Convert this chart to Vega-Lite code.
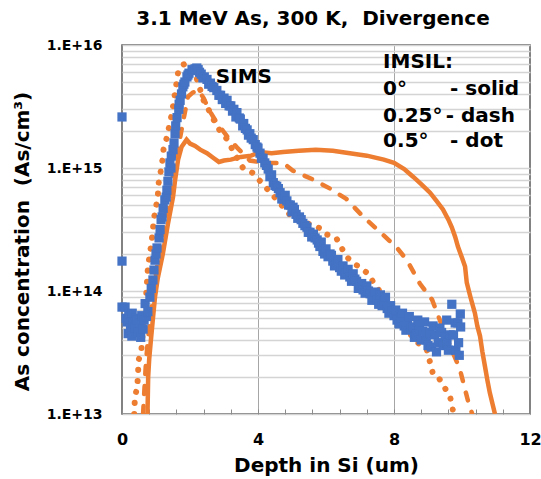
{
  "$schema": "https://vega.github.io/schema/vega-lite/v6.json",
  "autosize": "none",
  "width": 408,
  "height": 369,
  "padding": {"left": 122, "top": 45, "right": 11, "bottom": 65},
  "background": "white",
  "view": {"stroke": "#595959", "strokeWidth": 1.5},
  "title": {"text": "3.1 MeV As, 300 K,\u00a0 Divergence", "font": "DejaVu Sans", "fontSize": 20, "fontWeight": "bold", "color": "black", "anchor": "middle", "offset": 9, "dx": -13},
  "datasets": {
    "d0": [
      {"x": 0.75, "y": 1.0e13}, {"x": 0.77, "y": 2.0e13}, {"x": 0.8, "y": 2.8e13}, {"x": 0.85, "y": 4.0e13}, {"x": 0.9, "y": 5.6e13},
      {"x": 0.97, "y": 8.9e13}, {"x": 1.05, "y": 1.26e14}, {"x": 1.2, "y": 2.0e14}, {"x": 1.35, "y": 3.5e14}, {"x": 1.5, "y": 5.8e14},
      {"x": 1.56, "y": 7.9e14}, {"x": 1.65, "y": 1.17e15}, {"x": 1.75, "y": 1.48e15}, {"x": 1.9, "y": 1.7e15}, {"x": 2.0, "y": 1.58e15},
      {"x": 2.15, "y": 1.51e15}, {"x": 2.3, "y": 1.41e15}, {"x": 2.5, "y": 1.32e15}, {"x": 2.7, "y": 1.2e15}, {"x": 2.85, "y": 1.12e15},
      {"x": 3.0, "y": 1.15e15}, {"x": 3.2, "y": 1.17e15}, {"x": 3.5, "y": 1.23e15}, {"x": 3.8, "y": 1.26e15}, {"x": 4.06, "y": 1.35e15},
      {"x": 4.4, "y": 1.32e15}, {"x": 4.74, "y": 1.35e15}, {"x": 5.2, "y": 1.38e15}, {"x": 5.7, "y": 1.41e15}, {"x": 6.2, "y": 1.38e15},
      {"x": 6.7, "y": 1.32e15}, {"x": 7.2, "y": 1.26e15}, {"x": 7.7, "y": 1.17e15}, {"x": 8.0, "y": 1.1e15}, {"x": 8.3, "y": 9.8e14},
      {"x": 8.56, "y": 8.5e14}, {"x": 8.8, "y": 7.4e14}, {"x": 9.06, "y": 6.3e14}, {"x": 9.25, "y": 5.4e14}, {"x": 9.44, "y": 4.6e14},
      {"x": 9.6, "y": 3.8e14}, {"x": 9.7, "y": 3.3e14}, {"x": 9.8, "y": 2.75e14}, {"x": 9.88, "y": 2.3e14}, {"x": 10.0, "y": 1.86e14},
      {"x": 10.09, "y": 1.58e14}, {"x": 10.14, "y": 1.17e14}, {"x": 10.25, "y": 8.9e13}, {"x": 10.38, "y": 6.6e13}, {"x": 10.45, "y": 5.2e13},
      {"x": 10.53, "y": 4.3e13}, {"x": 10.6, "y": 3.2e13}, {"x": 10.68, "y": 2.4e13}, {"x": 10.75, "y": 1.86e13}, {"x": 10.82, "y": 1.48e13},
      {"x": 10.9, "y": 1.2e13}, {"x": 10.97, "y": 1.0e13}
    ],
    "d25": [
      {"x": 0.62, "y": 1.0e13}, {"x": 0.66, "y": 1.6e13}, {"x": 0.7, "y": 2.5e13}, {"x": 0.76, "y": 4.0e13}, {"x": 0.84, "y": 6.3e13},
      {"x": 0.93, "y": 1.0e14}, {"x": 1.03, "y": 1.6e14}, {"x": 1.15, "y": 2.5e14}, {"x": 1.28, "y": 4.0e14}, {"x": 1.42, "y": 6.5e14},
      {"x": 1.55, "y": 1.05e15}, {"x": 1.68, "y": 1.6e15}, {"x": 1.8, "y": 2.4e15}, {"x": 1.94, "y": 3.8e15}, {"x": 2.08, "y": 4.1e15},
      {"x": 2.25, "y": 4.3e15}, {"x": 2.4, "y": 3.7e15}, {"x": 2.55, "y": 3.0e15}, {"x": 2.8, "y": 2.3e15}, {"x": 3.1, "y": 1.8e15},
      {"x": 3.4, "y": 1.45e15}, {"x": 3.76, "y": 1.15e15}, {"x": 4.2, "y": 1.1e15}, {"x": 4.74, "y": 1.1e15}, {"x": 5.03, "y": 9.5e14},
      {"x": 5.6, "y": 8.1e14}, {"x": 6.12, "y": 6.8e14}, {"x": 6.6, "y": 5.6e14}, {"x": 7.1, "y": 4.0e14}, {"x": 7.6, "y": 3.0e14},
      {"x": 8.09, "y": 2.24e14}, {"x": 8.38, "y": 1.78e14}, {"x": 8.76, "y": 1.15e14}, {"x": 9.12, "y": 8.5e13}, {"x": 9.5, "y": 4.5e13},
      {"x": 9.94, "y": 2.3e13}, {"x": 10.17, "y": 1.3e13}, {"x": 10.3, "y": 1.0e13}
    ],
    "d50": [
      {"x": 0.36, "y": 1.0e13}, {"x": 0.38, "y": 1.38e13}, {"x": 0.45, "y": 1.66e13}, {"x": 0.47, "y": 2.1e13}, {"x": 0.49, "y": 2.75e13},
      {"x": 0.57, "y": 3.3e13}, {"x": 0.6, "y": 4.2e13}, {"x": 0.65, "y": 6.3e13}, {"x": 0.7, "y": 8.5e13}, {"x": 0.73, "y": 1.1e14},
      {"x": 0.75, "y": 1.4e14}, {"x": 0.78, "y": 1.7e14}, {"x": 0.87, "y": 2.5e14}, {"x": 0.91, "y": 3.2e14}, {"x": 0.94, "y": 3.9e14},
      {"x": 1.05, "y": 5.8e14}, {"x": 1.08, "y": 7.6e14}, {"x": 1.13, "y": 9.1e14}, {"x": 1.19, "y": 1.17e15}, {"x": 1.22, "y": 1.41e15},
      {"x": 1.32, "y": 1.78e15}, {"x": 1.47, "y": 2.8e15}, {"x": 1.56, "y": 4.1e15}, {"x": 1.65, "y": 6.0e15}, {"x": 1.78, "y": 6.9e15},
      {"x": 1.9, "y": 7.1e15}, {"x": 2.05, "y": 6.4e15}, {"x": 2.2, "y": 5.3e15}, {"x": 2.4, "y": 3.55e15}, {"x": 2.6, "y": 2.8e15},
      {"x": 2.8, "y": 2.15e15}, {"x": 3.1, "y": 1.7e15}, {"x": 3.3, "y": 1.32e15}, {"x": 3.56, "y": 1.0e15}, {"x": 3.85, "y": 9.1e14},
      {"x": 4.2, "y": 7.1e14}, {"x": 4.56, "y": 5.5e14}, {"x": 5.03, "y": 3.9e14}, {"x": 5.4, "y": 3.6e14}, {"x": 5.82, "y": 3.24e14},
      {"x": 6.0, "y": 2.9e14}, {"x": 6.3, "y": 2.7e14}, {"x": 6.6, "y": 1.9e14}, {"x": 6.8, "y": 1.7e14}, {"x": 7.2, "y": 1.41e14},
      {"x": 7.5, "y": 1.07e14}, {"x": 7.9, "y": 7.4e13}, {"x": 8.38, "y": 4.8e13}, {"x": 8.7, "y": 3.8e13}, {"x": 8.97, "y": 3.3e13},
      {"x": 9.15, "y": 2.1e13}, {"x": 9.3, "y": 2.0e13}, {"x": 9.5, "y": 1.62e13}, {"x": 9.65, "y": 1.38e13}, {"x": 9.72, "y": 1.12e13},
      {"x": 9.75, "y": 1.0e13}
    ],
    "sims": [
      {"x": 0, "y": 2.6e15}, {"x": 0, "y": 1.75e14}, {"x": 0, "y": 7.4e13},
      {"x": 0.09, "y": 7.4e13}, {"x": 0.12, "y": 6.0e13}, {"x": 0.15, "y": 5.6e13}, {"x": 0.18, "y": 4.5e13}, {"x": 0.2, "y": 6.5e13}, {"x": 0.25, "y": 5.0e13},
      {"x": 0.29, "y": 4.3e13}, {"x": 0.3, "y": 6.6e13}, {"x": 0.33, "y": 5.5e13}, {"x": 0.38, "y": 5.0e13}, {"x": 0.42, "y": 6.0e13}, {"x": 0.45, "y": 5.8e13}, {"x": 0.47, "y": 4.6e13},
      {"x": 0.53, "y": 5.5e13}, {"x": 0.55, "y": 4.2e13}, {"x": 0.58, "y": 6.3e13}, {"x": 0.62, "y": 4.9e13}, {"x": 0.65, "y": 5.8e13}, {"x": 0.68, "y": 7.9e13}, {"x": 0.72, "y": 6.2e13},
      {"x": 0.76, "y": 6.8e13}, {"x": 0.82, "y": 8.9e13}, {"x": 0.86, "y": 1.05e14}, {"x": 0.91, "y": 1.23e14}, {"x": 0.94, "y": 1.48e14},
      {"x": 0.97, "y": 1.78e14}, {"x": 1.0, "y": 2.0e14}, {"x": 1.03, "y": 2.24e14}, {"x": 1.09, "y": 2.7e14}, {"x": 1.12, "y": 3.16e14}, {"x": 1.15, "y": 3.8e14},
      {"x": 1.18, "y": 4.0e14}, {"x": 1.21, "y": 4.7e14}, {"x": 1.26, "y": 5.5e14}, {"x": 1.3, "y": 5.8e14}, {"x": 1.32, "y": 6.6e14}, {"x": 1.35, "y": 7.8e14}, {"x": 1.38, "y": 9.3e14},
      {"x": 1.41, "y": 1.1e15}, {"x": 1.44, "y": 1.0e15}, {"x": 1.45, "y": 1.25e15}, {"x": 1.5, "y": 1.41e15}, {"x": 1.53, "y": 1.6e15}, {"x": 1.56, "y": 1.9e15},
      {"x": 1.58, "y": 2.2e15}, {"x": 1.62, "y": 2.57e15}, {"x": 1.67, "y": 3.0e15}, {"x": 1.68, "y": 3.3e15}, {"x": 1.71, "y": 3.55e15}, {"x": 1.75, "y": 4.0e15}, {"x": 1.79, "y": 4.57e15},
      {"x": 1.82, "y": 4.8e15}, {"x": 1.85, "y": 5.0e15}, {"x": 1.91, "y": 5.5e15}, {"x": 1.94, "y": 5.7e15}, {"x": 1.97, "y": 5.9e15}, {"x": 2.06, "y": 6.3e15}, {"x": 2.1, "y": 6.2e15},
      {"x": 2.15, "y": 6.4e15}, {"x": 2.2, "y": 6.5e15}, {"x": 2.24, "y": 6.3e15}, {"x": 2.28, "y": 6.0e15}, {"x": 2.33, "y": 5.8e15}, {"x": 2.38, "y": 5.4e15},
      {"x": 2.42, "y": 5.5e15}, {"x": 2.5, "y": 5.25e15}, {"x": 2.55, "y": 4.8e15}, {"x": 2.6, "y": 4.9e15}, {"x": 2.65, "y": 4.6e15},
      {"x": 2.7, "y": 4.5e15}, {"x": 2.79, "y": 4.27e15}, {"x": 2.85, "y": 3.9e15}, {"x": 2.9, "y": 3.9e15}, {"x": 2.95, "y": 3.6e15}, {"x": 3.0, "y": 3.7e15},
      {"x": 3.05, "y": 3.35e15}, {"x": 3.09, "y": 3.55e15}, {"x": 3.15, "y": 3.2e15},
      {"x": 3.2, "y": 3.2e15}, {"x": 3.25, "y": 2.9e15}, {"x": 3.29, "y": 3.0e15}, {"x": 3.35, "y": 2.6e15}, {"x": 3.38, "y": 2.82e15}, {"x": 3.45, "y": 2.55e15},
      {"x": 3.48, "y": 2.5e15}, {"x": 3.55, "y": 2.2e15}, {"x": 3.58, "y": 2.3e15}, {"x": 3.63, "y": 2.1e15},
      {"x": 3.68, "y": 2.04e15}, {"x": 3.72, "y": 1.85e15}, {"x": 3.76, "y": 1.9e15}, {"x": 3.8, "y": 1.75e15}, {"x": 3.86, "y": 1.7e15}, {"x": 3.92, "y": 1.55e15},
      {"x": 3.97, "y": 1.48e15}, {"x": 4.0, "y": 1.45e15}, {"x": 4.06, "y": 1.32e15}, {"x": 4.1, "y": 1.2e15},
      {"x": 4.15, "y": 1.2e15}, {"x": 4.2, "y": 1.1e15}, {"x": 4.25, "y": 1.05e15}, {"x": 4.3, "y": 9.8e14}, {"x": 4.35, "y": 8.5e14}, {"x": 4.4, "y": 8.8e14},
      {"x": 4.45, "y": 7.6e14}, {"x": 4.5, "y": 7.2e14}, {"x": 4.55, "y": 7.1e14}, {"x": 4.6, "y": 6.8e14},
      {"x": 4.65, "y": 6.3e14}, {"x": 4.7, "y": 5.6e14}, {"x": 4.75, "y": 5.6e14}, {"x": 4.8, "y": 6.0e14}, {"x": 4.85, "y": 5.4e14}, {"x": 4.9, "y": 5.0e14},
      {"x": 4.95, "y": 5.0e14}, {"x": 5.0, "y": 4.4e14}, {"x": 5.03, "y": 4.8e14}, {"x": 5.07, "y": 4.6e14},
      {"x": 5.12, "y": 4.2e14}, {"x": 5.17, "y": 3.9e14}, {"x": 5.22, "y": 4.0e14}, {"x": 5.27, "y": 3.8e14}, {"x": 5.32, "y": 3.55e14}, {"x": 5.38, "y": 3.4e14},
      {"x": 5.44, "y": 3.3e14}, {"x": 5.48, "y": 3.0e14}, {"x": 5.53, "y": 3.0e14}, {"x": 5.58, "y": 2.75e14},
      {"x": 5.63, "y": 2.9e14}, {"x": 5.68, "y": 2.7e14}, {"x": 5.74, "y": 2.6e14}, {"x": 5.78, "y": 2.45e14}, {"x": 5.82, "y": 2.3e14}, {"x": 5.86, "y": 2.5e14},
      {"x": 5.91, "y": 2.1e14}, {"x": 5.96, "y": 2.0e14}, {"x": 6.0, "y": 2.2e14}, {"x": 6.06, "y": 1.9e14},
      {"x": 6.12, "y": 2.0e14}, {"x": 6.16, "y": 1.95e14}, {"x": 6.2, "y": 1.75e14}, {"x": 6.25, "y": 1.6e14}, {"x": 6.3, "y": 1.7e14}, {"x": 6.35, "y": 1.8e14},
      {"x": 6.4, "y": 1.55e14}, {"x": 6.45, "y": 1.45e14}, {"x": 6.5, "y": 1.6e14}, {"x": 6.55, "y": 1.35e14},
      {"x": 6.6, "y": 1.41e14}, {"x": 6.65, "y": 1.5e14}, {"x": 6.7, "y": 1.3e14}, {"x": 6.75, "y": 1.2e14}, {"x": 6.8, "y": 1.38e14}, {"x": 6.85, "y": 1.25e14},
      {"x": 6.9, "y": 1.2e14}, {"x": 6.95, "y": 1.05e14}, {"x": 7.0, "y": 1.12e14}, {"x": 7.05, "y": 1.15e14},
      {"x": 7.09, "y": 1.02e14}, {"x": 7.15, "y": 9.6e13}, {"x": 7.2, "y": 1.1e14}, {"x": 7.25, "y": 1.0e14}, {"x": 7.3, "y": 9.5e13}, {"x": 7.35, "y": 8.4e13},
      {"x": 7.4, "y": 8.9e13}, {"x": 7.45, "y": 9.8e13}, {"x": 7.5, "y": 8.5e13}, {"x": 7.55, "y": 7.8e13},
      {"x": 7.6, "y": 9.3e13}, {"x": 7.65, "y": 7.6e13}, {"x": 7.7, "y": 8.3e13}, {"x": 7.75, "y": 8.9e13}, {"x": 7.8, "y": 7.2e13}, {"x": 7.85, "y": 6.6e13},
      {"x": 7.9, "y": 7.6e13}, {"x": 7.95, "y": 6.9e13}, {"x": 8.0, "y": 6.3e13}, {"x": 8.05, "y": 7.0e13},
      {"x": 8.09, "y": 5.8e13}, {"x": 8.15, "y": 5.4e13}, {"x": 8.2, "y": 6.0e13}, {"x": 8.25, "y": 6.6e13}, {"x": 8.3, "y": 5.2e13}, {"x": 8.35, "y": 4.8e13},
      {"x": 8.4, "y": 5.6e13}, {"x": 8.45, "y": 6.2e13}, {"x": 8.5, "y": 4.9e13},
      {"x": 8.56, "y": 5.1e13}, {"x": 8.6, "y": 4.2e13}, {"x": 8.65, "y": 4.5e13}, {"x": 8.7, "y": 5.8e13}, {"x": 8.75, "y": 5.3e13}, {"x": 8.8, "y": 4.0e13},
      {"x": 8.85, "y": 4.7e13}, {"x": 8.9, "y": 5.6e13}, {"x": 8.95, "y": 4.0e13}, {"x": 9.0, "y": 3.6e13},
      {"x": 9.06, "y": 4.6e13}, {"x": 9.1, "y": 3.5e13}, {"x": 9.15, "y": 5.2e13}, {"x": 9.2, "y": 4.4e13}, {"x": 9.25, "y": 3.2e13}, {"x": 9.3, "y": 3.8e13},
      {"x": 9.35, "y": 5.0e13}, {"x": 9.4, "y": 4.6e13},
      {"x": 9.45, "y": 3.6e13}, {"x": 9.5, "y": 4.2e13}, {"x": 9.55, "y": 5.8e13}, {"x": 9.56, "y": 3.8e13}, {"x": 9.6, "y": 3.3e13}, {"x": 9.65, "y": 4.4e13},
      {"x": 9.7, "y": 7.8e13}, {"x": 9.75, "y": 4.4e13}, {"x": 9.8, "y": 5.5e13},
      {"x": 9.82, "y": 3.3e13}, {"x": 9.88, "y": 5.5e13}, {"x": 9.9, "y": 3.8e13}, {"x": 9.92, "y": 3.0e13}, {"x": 9.95, "y": 6.5e13}, {"x": 9.96, "y": 5.1e13}
    ],
    "labels": [
      {"x": 2.76, "y": 5.45e15, "t": "SIMS"},
      {"x": 7.68, "y": 7.21e15, "t": "IMSIL:"},
      {"x": 7.68, "y": 4.35e15, "t": "0°"},
      {"x": 7.68, "y": 2.67e15, "t": "0.25°"},
      {"x": 7.68, "y": 1.67e15, "t": "0.5°"},
      {"x": 9.65, "y": 4.35e15, "t": "- solid"},
      {"x": 9.52, "y": 2.67e15, "t": "- dash"},
      {"x": 9.65, "y": 1.67e15, "t": "- dot"}
    ]
  },
  "encoding": {
    "x": {
      "field": "x", "type": "quantitative",
      "scale": {"domain": [0, 12], "nice": false, "zero": false},
      "axis": {
        "title": "Depth in Si (um)",
        "values": [0, 0.8, 1.6, 2.4, 3.2, 4, 4.8, 5.6, 6.4, 7.2, 8, 8.8, 9.6, 10.4, 11.2, 12],
        "labelExpr": "(datum.value == 0 || datum.value == 4 || datum.value == 8 || datum.value == 12) ? datum.label : ''",
        "labelOverlap": false, "labelFlush": false,
        "labelFont": "DejaVu Sans", "labelFontSize": 16, "labelFontWeight": "bold", "labelColor": "black", "labelPadding": 22,
        "grid": true,
        "gridColor": {"condition": {"test": "datum.value == 4 || datum.value == 8", "value": "#a6a6a6"}, "value": "rgba(0,0,0,0)"},
        "gridWidth": 1,
        "domain": false,
        "ticks": true, "tickSize": -5, "tickColor": "#8c8c8c", "tickWidth": 1,
        "titleFont": "DejaVu Sans", "titleFontSize": 20, "titleFontWeight": "bold", "titleColor": "black",
        "titleY": 57, "titleBaseline": "alphabetic"
      }
    },
    "y": {
      "field": "y", "type": "quantitative",
      "scale": {"type": "log", "domain": [1e13, 1e16], "nice": false},
      "axis": {
        "title": "As concentration\u00a0 (As/cm³)",
        "values": [1e13, 2e13, 3e13, 4e13, 5e13, 6e13, 7e13, 8e13, 9e13, 1e14, 2e14, 3e14, 4e14, 5e14, 6e14, 7e14, 8e14, 9e14, 1e15, 2e15, 3e15, 4e15, 5e15, 6e15, 7e15, 8e15, 9e15, 1e16],
        "labelExpr": "abs(log(datum.value)/LN10 - round(log(datum.value)/LN10)) < 0.001 ? '1.E+' + round(log(datum.value)/LN10) : ''",
        "labelOverlap": false, "labelFlush": false,
        "labelFont": "DejaVu Sans", "labelFontSize": 14, "labelFontWeight": "bold", "labelColor": "black", "labelPadding": 20,
        "grid": true, "gridColor": "#d4d4d4", "gridWidth": 1.5,
        "domain": false, "ticks": false,
        "titleFont": "DejaVu Sans", "titleFontSize": 20, "titleFontWeight": "bold", "titleColor": "black",
        "titleX": -100, "titleY": 196, "titleAngle": -90, "titleAlign": "center", "titleBaseline": "middle"
      }
    }
  },
  "layer": [
    {"data": {"name": "d0"}, "mark": {"type": "line", "color": "#ED7D31", "strokeWidth": 4.5, "clip": true}},
    {"data": {"name": "d25"}, "mark": {"type": "line", "color": "#ED7D31", "strokeWidth": 4.5, "strokeDash": [8, 12], "strokeCap": "round", "clip": true}},
    {"data": {"name": "d50"}, "mark": {"type": "line", "color": "#ED7D31", "strokeWidth": 6, "strokeDash": [0.1, 11], "strokeCap": "round", "clip": true}},
    {"data": {"name": "sims"}, "mark": {"type": "square", "color": "#4472C4", "opacity": 1, "size": 85, "clip": false}},
    {"data": {"name": "labels"}, "mark": {"type": "text", "font": "DejaVu Sans", "fontSize": 20, "fontWeight": "bold", "color": "black", "align": "left", "baseline": "middle"}, "encoding": {"text": {"field": "t"}}}
  ]
}
